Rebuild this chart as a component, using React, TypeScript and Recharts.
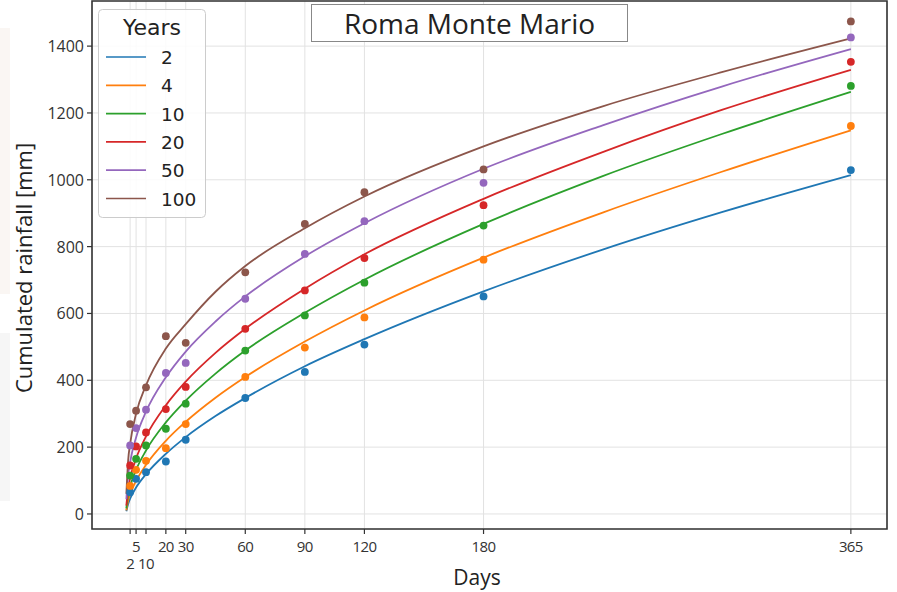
import React from 'react';
import {
  ComposedChart,
  Line,
  Scatter,
  XAxis,
  YAxis,
  CartesianGrid,
  ReferenceArea,
  Legend,
} from 'recharts';

// Return periods (years) and colours
const periods = ['2', '4', '10', '20', '50', '100'];
const colors = ['#1f77b4', '#ff7f0e', '#2ca02c', '#d62728', '#9467bd', '#8c564b'];

// Observed cumulated rainfall (points)
const obsDays = [2, 5, 10, 20, 30, 60, 90, 120, 180, 365];
const obs2 = [65, 105, 125, 157, 222, 347, 425, 507, 651, 1029];
const obs4 = [84, 132, 159, 197, 269, 410, 498, 588, 761, 1161];
const obs10 = [115, 165, 205, 255, 330, 489, 594, 692, 863, 1281];
const obs20 = [145, 202, 244, 314, 380, 554, 669, 766, 924, 1353];
const obs50 = [205, 257, 312, 422, 452, 644, 778, 876, 991, 1426];
const obs100 = [269, 309, 379, 532, 512, 723, 868, 963, 1031, 1474];

// Fitted curves
const curveDays = [0.1, 1, 2, 5, 10, 20, 30, 45, 60, 90, 120, 180, 240, 300, 365];
const fit2 = [8, 30, 46, 79, 119, 180, 230, 293, 347, 442, 523, 666, 791, 903, 1014];
const fit4 = [11, 40, 59, 99, 147, 219, 276, 348, 410, 516, 609, 767, 902, 1024, 1148];
const fit10 = [17, 57, 82, 132, 190, 274, 339, 420, 489, 602, 701, 868, 1011, 1137, 1263];
const fit20 = [25, 76, 107, 166, 232, 325, 396, 482, 554, 674, 777, 943, 1083, 1209, 1329];
const fit50 = [44, 116, 155, 229, 306, 409, 486, 576, 651, 771, 870, 1033, 1163, 1279, 1391];
const fit100 = [60, 160, 210, 300, 385, 495, 568, 665, 742, 855, 950, 1100, 1220, 1322, 1423];

// Axis ticks
const xTicks = [2, 5, 10, 20, 30, 60, 90, 120, 180, 365];
const xSecondRow = [2, 10];
const yTicks = [0, 200, 400, 600, 800, 1000, 1200, 1400];
const xDomain: [number, number] = [-17.2, 383.2];
const yDomain: [number, number] = [-45, 1535];

const title = 'Roma Monte Mario';
const legendTitle = 'Years';
const xLabel = 'Days';
const yLabel = 'Cumulated rainfall [mm]';

const obsAll = [obs2, obs4, obs10, obs20, obs50, obs100];
const fitAll = [fit2, fit4, fit10, fit20, fit50, fit100];

const obsSeries = obsAll.map((vals) => obsDays.map((d, i) => ({ day: d, v: vals[i] })));
const fitSeries = fitAll.map((vals) => curveDays.map((d, i) => ({ day: d, v: vals[i] })));

const tickFont = "'Open Sans', 'DejaVu Sans', sans-serif";

const XTick = (props: any) => {
  const { x, y, payload } = props;
  const second = xSecondRow.includes(payload.value);
  return (
    <text
      x={x}
      y={y + (second ? 33 : 16)}
      textAnchor="middle"
      fontSize={15}
      letterSpacing={-0.6}
      fontFamily={tickFont}
      fill="#333"
    >
      {payload.value}
    </text>
  );
};

const YTick = (props: any) => {
  const { x, y, payload } = props;
  return (
    <text
      x={x}
      y={y + 6}
      textAnchor="end"
      fontSize={16}
      fontFamily={tickFont}
      fill="#333"
    >
      {payload.value}
    </text>
  );
};

const LegendBox = () => (
  <svg width={108} height={210} style={{ display: 'block' }}>
    <rect x={0.5} y={0.5} width={107} height={208} rx={4} fill="rgba(255,255,255,0.85)" stroke="#cccccc" />
    <text x={54} y={26} textAnchor="middle" fontSize={22} fontFamily="'DejaVu Sans', sans-serif" fill="#222">
      {legendTitle}
    </text>
    {periods.map((p, i) => (
      <g key={p}>
        <line x1={8} x2={48} y1={48 + i * 28.3} y2={48 + i * 28.3} stroke={colors[i]} strokeWidth={1.7} />
        <text
          x={63}
          y={48 + i * 28.3 + 7}
          fontSize={18.5}
          fontFamily="'DejaVu Sans', sans-serif"
          fill="#222"
        >
          {p}
        </text>
      </g>
    ))}
  </svg>
);

const Dot = (color: string) => (props: any) => {
  const { cx, cy } = props;
  if (cx == null || cy == null) return null;
  return <circle cx={cx} cy={cy} r={3.9} fill={color} />;
};

export default function App() {
  return (
    <div style={{ position: 'absolute', left: 0, top: 0, width: 897, height: 592, background: '#fff' }}>
      <div style={{ position: 'absolute', left: 0, top: 28, width: 10, height: 266, background: '#faf6f3' }} />
      <div style={{ position: 'absolute', left: 0, top: 333, width: 10, height: 168, background: '#f6f6f6' }} />
      <ComposedChart
        width={897}
        height={592}
        margin={{ top: 1, right: 10, bottom: 0, left: 0 }}
        style={{ position: 'absolute', left: 0, top: 0 }}
      >
        <CartesianGrid stroke="#e2e2e2" strokeWidth={1} />
        <XAxis
          type="number"
          dataKey="day"
          domain={xDomain}
          ticks={xTicks}
          allowDataOverflow
          interval={0}
          height={63}
          axisLine={false}
          tickLine={{ stroke: '#333', strokeWidth: 1.2 }}
          tickSize={5}
          tick={<XTick />}
          label={{
            content: () => (
              <text x={477} y={585} textAnchor="middle" fontSize={21} fontFamily={tickFont} fill="#222">
                {xLabel}
              </text>
            ),
          }}
        />
        <YAxis
          type="number"
          dataKey="v"
          domain={yDomain}
          ticks={yTicks}
          allowDataOverflow
          interval={0}
          width={92}
          axisLine={false}
          tickLine={{ stroke: '#333', strokeWidth: 1.2 }}
          tickSize={5}
          tickMargin={3}
          tick={<YTick />}
          label={{
            content: () => (
              <text
                transform="translate(32,268) rotate(-90)"
                textAnchor="middle"
                fontSize={22}
                fontFamily={tickFont}
                fill="#222"
              >
                {yLabel}
              </text>
            ),
          }}
        />
        <ReferenceArea
          x1={xDomain[0]}
          x2={xDomain[1]}
          y1={yDomain[0]}
          y2={yDomain[1]}
          fill="none"
          fillOpacity={0}
          stroke="#333"
          strokeWidth={1.6}
          ifOverflow="visible"
        />
        {fitSeries.map((data, i) => (
          <Line
            key={'fit' + i}
            data={data}
            dataKey="v"
            type="monotone"
            stroke={colors[i]}
            strokeWidth={1.8}
            dot={false}
            activeDot={false}
            isAnimationActive={false}
            legendType="line"
            name={periods[i]}
          />
        ))}
        {obsSeries.map((data, i) => (
          <Scatter
            key={'obs' + i}
            data={data}
            dataKey="v"
            fill={colors[i]}
            shape={Dot(colors[i])}
            isAnimationActive={false}
            legendType="none"
          />
        ))}
        <Legend
          layout="vertical"
          align="center"
          verticalAlign="middle"
          content={() => <LegendBox />}
          wrapperStyle={{ position: 'absolute', left: 98, top: 9, width: 108, height: 210 }}
        />
      </ComposedChart>
      <div
        style={{
          position: 'absolute',
          left: 311,
          top: 4,
          width: 317,
          height: 38,
          boxSizing: 'border-box',
          border: '1.5px solid #888',
          background: '#fff',
          fontFamily: tickFont,
          fontSize: 28,
          color: '#222',
          textAlign: 'center',
          lineHeight: '36px',
        }}
      >
        {title}
      </div>
    </div>
  );
}
